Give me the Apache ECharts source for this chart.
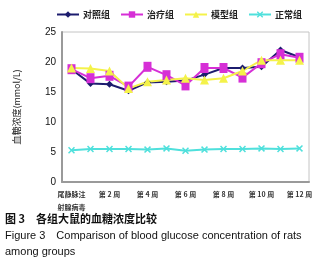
<!DOCTYPE html>
<html>
<head>
<meta charset="utf-8">
<script src="https://cdn.jsdelivr.net/npm/echarts@6/dist/echarts.min.js"></script>
<style>
html, body { margin: 0; padding: 0; background: #fff; }
#chart { width: 327px; height: 267px; }
</style>
</head>
<body>
<div id="chart"></div>
<script>
// 时间点
var weeks = ['尾静脉注\n射腺病毒', '第 1 周', '第 2 周', '第 3 周', '第 4 周', '第 5 周', '第 6 周',
	'第 7 周', '第 8 周', '第 9 周', '第 10 周', '第 11 周', '第 12 周'];
var seriesNames = ['对照组', '治疗组', '模型组', '正常组'];
// 各组血糖值 (mmol/L)
var controlData = [18.8, 16.4, 16.3, 15.2, 16.6, 16.7, 16.9, 17.9, 19.0, 19.0, 19.2, 22.0, 20.8];
var treatData = [18.8, 17.3, 17.7, 15.9, 19.2, 17.8, 16.1, 19.0, 19.0, 17.4, 19.8, 21.3, 20.7];
var modelData = [19.0, 18.9, 18.5, 15.6, 16.7, 17.0, 17.3, 17.0, 17.3, 18.5, 20.3, 20.3, 20.3];
var normalData = [5.3, 5.5, 5.5, 5.5, 5.4, 5.6, 5.2, 5.4, 5.5, 5.5, 5.6, 5.5, 5.6];
var yTicks = [0, 5, 10, 15, 20, 25];

var colors = ['#1c1c6e', '#d62fd6', '#f4f24a', '#4fe0dc'];
var xMark = 'path://M0,1.5L1.5,0L5,3.5L8.5,0L10,1.5L6.5,5L10,8.5L8.5,10L5,6.5L1.5,10L0,8.5L3.5,5Z';

var myChart = echarts.init(document.getElementById('chart'));

function makeSeries(name, data, color, symbol, size) {
	return {
		name : name,
		type : 'line',
		data : data,
		symbol : symbol,
		symbolSize : size,
		lineStyle : { color : color, width : 2 },
		itemStyle : { color : color },
		z : 2
	};
}

var option = {
	animation : false,
	textStyle : { fontFamily : 'Liberation Sans, Noto Sans CJK SC' },
	legend : {
		top : 10,
		left : 56,
		padding : 0,
		itemWidth : 22,
		itemHeight : 8,
		itemGap : 10,
		textStyle : { fontSize : 9, fontWeight : 'bold', color : '#222', fontFamily : 'Noto Sans CJK SC', padding : [0, 0, 0, -1] },
		data : seriesNames
	},
	grid : {
		left : 62,
		right : 18,
		top : 32,
		bottom : 85,
		show : true,
		borderColor : '#c4c4c4',
		borderWidth : 1
	},
	xAxis : {
		type : 'category',
		data : weeks,
		boundaryGap : true,
		axisLine : { lineStyle : { color : '#9a9a9a', width : 2 } },
		axisTick : { show : false },
		axisLabel : {
			interval : 1,
			fontSize : 7,
			fontWeight : 'bold',
			color : '#333',
			lineHeight : 13,
			margin : 6,
			fontFamily : 'Noto Sans CJK SC'
		}
	},
	yAxis : {
		type : 'value',
		min : yTicks[0],
		max : yTicks[yTicks.length - 1],
		interval : 5,
		name : '血糖浓度(mmol/L)',
		nameLocation : 'middle',
		nameGap : 29,
		nameTextStyle : { fontSize : 9, color : '#222', fontFamily : 'Noto Sans CJK SC', padding : [0, 0, 12, 0] },
		axisLine : { show : true, lineStyle : { color : '#9a9a9a', width : 2 } },
		axisTick : { show : false },
		splitLine : { show : false },
		axisLabel : { fontSize : 10, color : '#111', margin : 6 }
	},
	series : [
		makeSeries(seriesNames[0], controlData, colors[0], 'diamond', 7),
		makeSeries(seriesNames[1], treatData, colors[1], 'rect', [8, 10]),
		makeSeries(seriesNames[2], modelData, colors[2], 'triangle', 9),
		makeSeries(seriesNames[3], normalData, colors[3], xMark, 7)
	],
	graphic : [
		{ type : 'text', left : 5, top : 213, style : { text : '图 3　各组大鼠的血糖浓度比较', font : 'bold 11px "Noto Sans CJK SC"', fill : '#111' } },
		{ type : 'text', left : 5, top : 230, style : { text : 'Figure 3　Comparison of blood glucose concentration of rats', font : '11px "Liberation Sans"', fill : '#111' } },
		{ type : 'text', left : 5, top : 246, style : { text : 'among groups', font : '11px "Liberation Sans"', fill : '#111' } }
	]
};
myChart.setOption(option);
</script>
</body>
</html>
